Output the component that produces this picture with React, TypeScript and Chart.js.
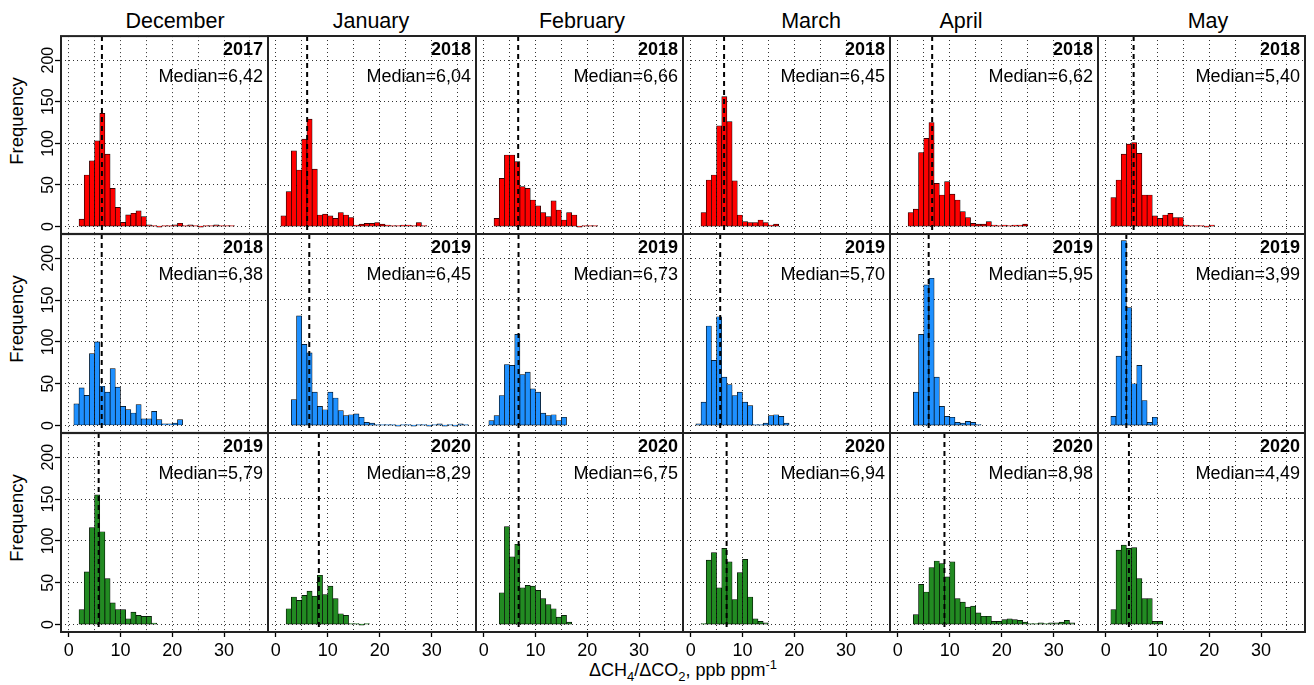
import React, { useEffect, useRef } from "react";
import { Chart, registerables } from "chart.js";

Chart.register(...registerables);

// ---------- data ----------
const MONTHS = ["December", "January", "February", "March", "April", "May"];
const YEARS = [
  ["2017", "2018", "2018", "2018", "2018", "2018"],
  ["2018", "2019", "2019", "2019", "2019", "2019"],
  ["2019", "2020", "2020", "2020", "2020", "2020"],
];
const MEDIANS = [
  [6.42, 6.04, 6.66, 6.45, 6.62, 5.4],
  [6.38, 6.45, 6.73, 5.7, 5.95, 3.99],
  [5.79, 8.29, 6.75, 6.94, 8.98, 4.49],
];
// left edge of first histogram bin (bin width = 1)
const BIN_START = [
  [2, 1, 2, 2, 2, 1],
  [1, 3, 1, 1, 3, 1],
  [2, 2, 3, 2, 3, 1],
];
// counts per bin
const dec2017 = [9, 62, 79, 103, 136, 87, 46, 23, 5, 14, 16, 19, 12, 2, 1, 0, 1, 1, 2, 4, 1, 2, 1, 0, 1, 1, 2, 1, 1, 1];
const jan2018 = [13, 42, 91, 68, 105, 129, 69, 14, 15, 13, 10, 17, 14, 11, 2, 3, 4, 4, 5, 3, 2, 1, 1, 2, 2, 1, 5, 1];
const feb2018 = [10, 58, 86, 86, 78, 48, 46, 32, 25, 17, 12, 31, 20, 8, 17, 14, 0, 1, 1, 1];
const mar2018 = [17, 56, 62, 121, 156, 126, 55, 14, 6, 5, 5, 8, 5, 2, 3];
const apr2018 = [17, 21, 89, 106, 125, 52, 38, 54, 39, 32, 18, 11, 4, 3, 3, 6, 2, 1, 2, 1, 2, 2, 3];
const may2018 = [35, 56, 87, 99, 101, 88, 38, 38, 13, 10, 14, 16, 11, 11, 2, 1, 1, 1, 0, 2];

const dec2018 = [26, 45, 36, 86, 100, 47, 40, 68, 46, 23, 19, 15, 25, 8, 8, 17, 7, 2, 2, 3, 7];
const jan2019 = [31, 131, 97, 87, 40, 23, 19, 40, 33, 18, 12, 13, 14, 10, 4, 3, 1, 1, 1, 1, 0, 1, 1, 0, 1, 1, 0, 1, 2, 0, 1, 0, 2, 1];
const feb2019 = [6, 12, 36, 73, 72, 109, 61, 64, 44, 40, 15, 12, 13, 6, 10];
const mar2019 = [2, 28, 119, 78, 130, 58, 49, 36, 40, 28, 24, 1, 1, 3, 12, 13, 11, 3];
const apr2019 = [40, 109, 168, 176, 58, 23, 11, 10, 4, 3, 5, 4, 1];
const may2019 = [11, 83, 221, 141, 50, 72, 30, 4, 10];

const dec2019 = [18, 63, 116, 155, 111, 55, 26, 18, 18, 7, 15, 11, 10, 10, 2];
const jan2020 = [19, 33, 29, 35, 40, 34, 59, 36, 46, 31, 13, 11, 1, 1, 0, 1];
const feb2020 = [38, 117, 81, 96, 44, 47, 46, 41, 31, 24, 19, 9, 11, 3];
const mar2020 = [1, 77, 86, 44, 91, 75, 30, 62, 78, 33, 7, 4, 2];
const apr2020 = [12, 48, 39, 68, 76, 73, 57, 75, 31, 27, 21, 22, 14, 10, 10, 4, 4, 6, 7, 6, 5, 3, 1, 1, 2, 1, 2, 2, 3, 5, 2];
const may2020 = [18, 89, 95, 91, 92, 55, 31, 31, 4, 4];

const COUNTS = [
  [dec2017, jan2018, feb2018, mar2018, apr2018, may2018],
  [dec2018, jan2019, feb2019, mar2019, apr2019, may2019],
  [dec2019, jan2020, feb2020, mar2020, apr2020, may2020],
];
const ROW_COLORS = ["#FF0000", "#1E90FF", "#228B22"];

const X_TICK_LABELS = [0, 10, 20, 30];
const Y_TICKS_STEP = 50;

// ---------- layout ----------
const COL_EDGES = [61, 268, 476, 683, 890, 1098, 1305];
const ROW_EDGES = [36, 234, 433, 632];
const X_MIN = -1.48;
const X_MAX = 38.48;
const Y_MIN = -8.8;
const Y_MAX = 228.8;
const TITLE_X = [175, 371, 582, 811, 961, 1208];
const FONT = "'Liberation Sans', Arial, Helvetica, sans-serif";

const Y_AXIS_W = 30;
const X_AXIS_H = 30;

function Panel({ row, col }: { row: number; col: number }) {
  const ref = useRef<HTMLCanvasElement>(null);
  const L = COL_EDGES[col];
  const R = COL_EDGES[col + 1];
  const T = ROW_EDGES[row];
  const B = ROW_EDGES[row + 1];
  const showY = col === 0;
  const showX = row === 2;
  const ml = showY ? 61 : 3;
  const mr = 3;
  const mt = 3;
  const mb = showX ? 40 : 3;
  const W = R - L + ml + mr;
  const H = B - T + mt + mb;

  useEffect(() => {
    const start = BIN_START[row][col];
    const counts = COUNTS[row][col];
    const data = counts.map((c, i) => ({ x: start + i + 0.5, y: c }));
    const median = MEDIANS[row][col];
    const year = YEARS[row][col];
    const medLabel = "Median=" + median.toFixed(2).replace(".", ",");

    const annot = {
      id: "annot" + row + col,
      afterDatasetsDraw(chart: any) {
        const { ctx, chartArea: a, scales } = chart;
        const px = scales.x.getPixelForValue(median);
        ctx.save();
        ctx.beginPath();
        ctx.rect(a.left, a.top, a.right - a.left, a.bottom - a.top);
        ctx.clip();
        ctx.strokeStyle = "#000";
        ctx.lineWidth = 2;
        ctx.setLineDash([5, 4]);
        ctx.beginPath();
        ctx.moveTo(px, a.top);
        ctx.lineTo(px, a.bottom);
        ctx.stroke();
        ctx.restore();

        ctx.save();
        ctx.fillStyle = "#000";
        ctx.textAlign = "right";
        ctx.textBaseline = "alphabetic";
        ctx.font = `bold 18px ${FONT}`;
        ctx.fillText(year, a.right - 5, a.top + 19);
        ctx.font = `18px ${FONT}`;
        ctx.fillText(medLabel, a.right - 5, a.top + 45.5);
        ctx.restore();
      },
      afterDraw(chart: any) {
        const { ctx, chartArea: a } = chart;
        ctx.save();
        ctx.strokeStyle = "#222";
        ctx.lineWidth = 2;
        ctx.setLineDash([]);
        ctx.strokeRect(a.left, a.top, a.right - a.left, a.bottom - a.top);
        ctx.restore();
      },
    };

    const chart = new Chart(ref.current as HTMLCanvasElement, {
      type: "bar",
      data: {
        datasets: [
          {
            data: data as any,
            backgroundColor: ROW_COLORS[row],
            borderColor: "#000",
            borderWidth: 0.7,
            borderSkipped: false,
            barPercentage: 1,
            categoryPercentage: 1,
            minBarLength: 1,
          },
        ],
      },
      options: {
        responsive: false,
        animation: false,
        devicePixelRatio: 1,
        events: [],
        layout: {
          padding: {
            left: showY ? ml - Y_AXIS_W : ml,
            right: mr,
            top: mt,
            bottom: showX ? mb - X_AXIS_H : mb,
          },
        },
        plugins: {
          legend: { display: false },
          tooltip: { enabled: false },
          title: { display: false },
        },
        scales: {
          x: {
            type: "linear",
            min: X_MIN,
            max: X_MAX,
            offset: false,
            afterFit: (s: any) => {
              s.height = showX ? X_AXIS_H : 0;
            },
            ticks: {
              display: showX,
              stepSize: 5,
              autoSkip: false,
              maxRotation: 0,
              minRotation: 0,
              includeBounds: false,
              padding: 3,
              color: "#000",
              font: { family: FONT, size: 18 },
              callback: (v: any) => (X_TICK_LABELS.includes(Number(v)) ? String(v) : ""),
            },
            grid: {
              display: true,
              offset: false,
              drawTicks: showX,
              tickLength: 5,
              color: "#333",
              lineWidth: 1,
              tickColor: (c: any) =>
                c.tick && X_TICK_LABELS.includes(c.tick.value) ? "#000" : "rgba(0,0,0,0)",
              tickWidth: 1.3,
              tickBorderDash: [],
            },
            border: { display: false, dash: [1, 3] },
          } as any,
          y: {
            type: "linear",
            min: Y_MIN,
            max: Y_MAX,
            afterFit: (s: any) => {
              s.width = showY ? Y_AXIS_W : 0;
            },
            ticks: {
              display: showY,
              stepSize: Y_TICKS_STEP,
              includeBounds: false,
              minRotation: 90,
              maxRotation: 90,
              crossAlign: "center",
              padding: -6.5,
              color: "#000",
              font: { family: FONT, size: 16 },
            },
            grid: {
              display: true,
              drawTicks: showY,
              tickLength: 6,
              color: "#333",
              lineWidth: 1,
              tickColor: "#000",
              tickWidth: 1.3,
              tickBorderDash: [],
            },
            border: { display: false, dash: [1, 3] },
          } as any,
        },
      },
      plugins: [annot],
    });
    return () => chart.destroy();
  }, [row, col]);

  return (
    <canvas
      ref={ref}
      width={W}
      height={H}
      style={{ position: "absolute", left: L - ml, top: T - mt, width: W, height: H }}
    />
  );
}

export default function App() {
  const panels = [];
  for (let r = 0; r < 3; r++) for (let c = 0; c < 6; c++) panels.push(<Panel key={r + "-" + c} row={r} col={c} />);
  return (
    <div
      style={{
        position: "absolute",
        left: 0,
        top: 0,
        width: 1314,
        height: 685,
        background: "#fff",
        fontFamily: FONT,
        color: "#000",
        overflow: "hidden",
      }}
    >
      {MONTHS.map((m, i) => (
        <div
          key={m}
          style={{
            position: "absolute",
            left: TITLE_X[i] - 100,
            width: 200,
            top: 11,
            textAlign: "center",
            fontSize: 21.5,
            lineHeight: "21px",
            whiteSpace: "nowrap",
          }}
        >
          {m}
        </div>
      ))}
      {[0, 1, 2].map((r) => (
        <div
          key={"f" + r}
          style={{
            position: "absolute",
            left: 17,
            top: (ROW_EDGES[r] + ROW_EDGES[r + 1]) / 2 - 14.5,
            transform: "translate(-50%, -50%) rotate(-90deg)",
            fontSize: 18.5,
            lineHeight: "18px",
            whiteSpace: "nowrap",
          }}
        >
          Frequency
        </div>
      ))}
      <div
        style={{
          position: "absolute",
          left: 683 - 300,
          width: 600,
          top: 661,
          textAlign: "center",
          fontSize: 18,
          lineHeight: "18px",
          whiteSpace: "nowrap",
        }}
      >
        ΔCH<sub style={{ fontSize: 13, lineHeight: 0 }}>4</sub>/ΔCO
        <sub style={{ fontSize: 13, lineHeight: 0 }}>2</sub>, ppb ppm
        <sup style={{ fontSize: 13, lineHeight: 0 }}>-1</sup>
      </div>
      {panels}
    </div>
  );
}
